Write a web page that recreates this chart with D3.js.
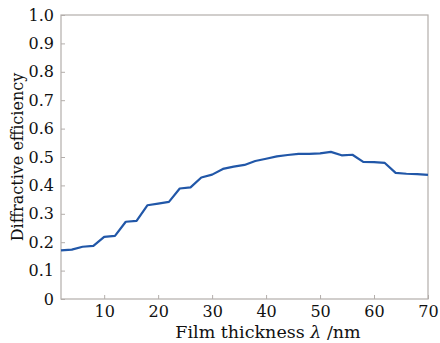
<!DOCTYPE html>
<html>
<head>
<meta charset="utf-8">
<script src="https://cdn.jsdelivr.net/npm/d3@7"></script>
<style>
  body { margin: 0; background: #fff; }
</style>
</head>
<body>
<div id="chart"></div>
<script>
var width = 440;
var height = 343;

// film thickness (nm)
var thickness = [2, 4, 6, 8, 10, 12, 14, 16, 18, 20, 22, 24, 26, 28, 30, 32, 34, 36,
                 38, 40, 42, 44, 46, 48, 50, 52, 54, 56, 58, 60, 62, 64, 66, 68, 70];
// diffractive efficiency
var efficiency = [0.171, 0.174, 0.184, 0.187, 0.219, 0.222, 0.272, 0.275, 0.330, 0.336,
                  0.342, 0.389, 0.393, 0.428, 0.438, 0.458, 0.466, 0.472, 0.486, 0.494,
                  0.502, 0.507, 0.511, 0.511, 0.513, 0.518, 0.506, 0.508, 0.483, 0.482,
                  0.479, 0.444, 0.441, 0.440, 0.437];

var xTicks = [10, 20, 30, 40, 50, 60, 70];
var yTicks = [0, 0.1, 0.2, 0.3, 0.4, 0.5, 0.6, 0.7, 0.8, 0.9, 1.0];

var serif = "'DejaVu Serif', 'Liberation Serif', serif";
var margin = {top: 15, right: 12, bottom: 44, left: 61};

var svg = d3.select("#chart")
  .append("svg")
  .attr("width", width)
  .attr("height", height)
  .attr("font-family", serif);

var x = d3.scaleLinear()
  .domain([2, 70])
  .range([margin.left, width - margin.right]);

var y = d3.scaleLinear()
  .domain([0, 1])
  .range([height - margin.bottom, margin.top]);

var frameColor = "#b3aeab";

// frame
svg.append("rect")
  .attr("x", x(2))
  .attr("y", y(1))
  .attr("width", x(70) - x(2))
  .attr("height", y(0) - y(1))
  .attr("fill", "none")
  .attr("stroke", frameColor)
  .attr("stroke-width", 1.2);

// bottom axis, ticks pointing inward
svg.append("g")
  .attr("transform", "translate(0," + y(0) + ")")
  .call(d3.axisBottom(x).tickValues(xTicks).tickSizeInner(-4).tickSizeOuter(0).tickPadding(7));

// left axis
svg.append("g")
  .attr("transform", "translate(" + x(2) + ",0)")
  .call(d3.axisLeft(y).tickValues(yTicks).tickSizeInner(-4).tickSizeOuter(0).tickPadding(7)
    .tickFormat(function(d){ return d === 0 ? "0" : d3.format(".1f")(d); }));

svg.selectAll(".domain").remove();
svg.selectAll(".tick line").attr("stroke", frameColor);
svg.selectAll("g").attr("font-family", serif).attr("font-size", 16);
svg.selectAll(".tick text").attr("fill", "#111");

// curve
var line = d3.line()
  .x(function(d, i){ return x(thickness[i]); })
  .y(function(d){ return y(d); });

svg.append("path")
  .datum(efficiency)
  .attr("d", line)
  .attr("fill", "none")
  .attr("stroke", "#2157a8")
  .attr("stroke-width", 2.2)
  .attr("stroke-linejoin", "round");

// axis titles
var xLabel = svg.append("text")
  .attr("x", 268)
  .attr("y", 338)
  .attr("text-anchor", "middle")
  .attr("font-size", 17.5)
  .attr("fill", "#111");
xLabel.append("tspan").text("Film thickness ");
xLabel.append("tspan").attr("font-style", "italic").text("λ");
xLabel.append("tspan").text(" /nm");

svg.append("text")
  .attr("transform", "translate(23,157) rotate(-90)")
  .attr("text-anchor", "middle")
  .attr("font-size", 16)
  .attr("fill", "#111")
  .text("Diffractive efficiency");
</script>
</body>
</html>
